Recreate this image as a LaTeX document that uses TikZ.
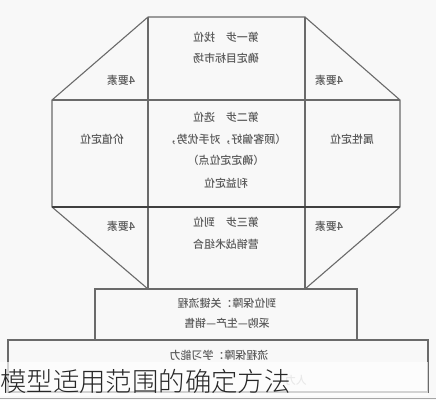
\documentclass[tikz,border=0pt]{standalone}
\usepackage{graphicx}
\usepackage{fontspec}
\newfontfamily\cjk{Noto Sans CJK SC Medium}
\newfontfamily\cjklight{Noto Sans CJK SC Light}
\definecolor{bg}{HTML}{F8F8F8}
\definecolor{ln}{HTML}{6A6A6A}
\definecolor{tx}{HTML}{5A5A5A}
\tikzset{
  edge/.style={draw=ln, line width=1.1bp},
  mtext/.style={text=tx, font=\cjk\fontsize{11}{13}\selectfont, inner sep=0pt, align=center},
}
\newcommand{\mir}[1]{\reflectbox{#1}}
\begin{document}
\begin{tikzpicture}[x=1bp, y=-1bp]
\fill[bg] (0,0) rectangle (436,400);
\useasboundingbox (0,0) rectangle (436,400);
% coordinates
\coordinate (A) at (148,17);
\coordinate (B) at (305,17);
\coordinate (L1) at (52,100);
\coordinate (R1) at (400,100);
\coordinate (L2) at (52,207);
\coordinate (R2) at (400,207);
\coordinate (C) at (148,289);
\coordinate (D) at (305,289);
% octagon
\draw[edge] (A) -- (B) -- (R1) -- (R2) -- (D);
\draw[edge] (A) -- (L1) -- (L2) -- (C);
\draw[edge] (A) -- (C);
\draw[edge] (B) -- (D);
\draw[edge] (L1) -- (R1);
\draw[edge, draw=black!75] (L2) -- (R2);
% bottom boxes
\draw[edge] (95,289) rectangle (357,340);
\draw[edge] (8,340) rectangle (428,392);
% texts (mirrored)
\node[mtext] (t1) at (226,37) {\mir{第一步\quad 找位}};
\node[mtext] (t2) at (226,58) {\mir{确定目标市场}};
\node[mtext] (t3) at (226,117) {\mir{第二步\quad 选位}};
\node[mtext] (t4) at (226,139) {\mir{（顾客偏好，对手优势，}};
\node[mtext] (t5) at (226,160) {\mir{（确定定位点）}};
\node[mtext] (t6) at (226,183) {\mir{利益定位}};
\node[mtext] (t7) at (226,222) {\mir{第三步\quad 到位}};
\node[mtext] (t8) at (226,244) {\mir{营销战术组合}};
\node[mtext] (lv) at (102,139) {\mir{价值定位}};
\node[mtext] (rv) at (352,139) {\mir{属性定位}};
\node[mtext] (k1) at (121,80) {\mir{4要素}};
\node[mtext] (k2) at (121,226) {\mir{4要素}};
\node[mtext] (k3) at (329,80) {\mir{4要素}};
\node[mtext] (k4) at (329,226) {\mir{4要素}};
\node[mtext] (b1) at (227,303) {\mir{到位保障：关键流程}};
\node[mtext] (b2) at (227,323) {\mir{采购—生产—销售}};
\node[mtext] (b3) at (219,355) {\mir{流程保障：学习能力}};
\node[mtext, text=tx!45] (b4) at (296,380) {\mir{人力}};
% caption band
\fill[white, opacity=0.7] (0,362) rectangle (428,396);
\draw[ln!60, line width=1bp] (0,398) -- (436,398);
\node[anchor=west, inner sep=0pt, text=black!85, font=\cjklight\fontsize{26.5}{30}\selectfont] (cap) at (0,381) {模型适用范围的确定方法};
\end{tikzpicture}
\end{document}
